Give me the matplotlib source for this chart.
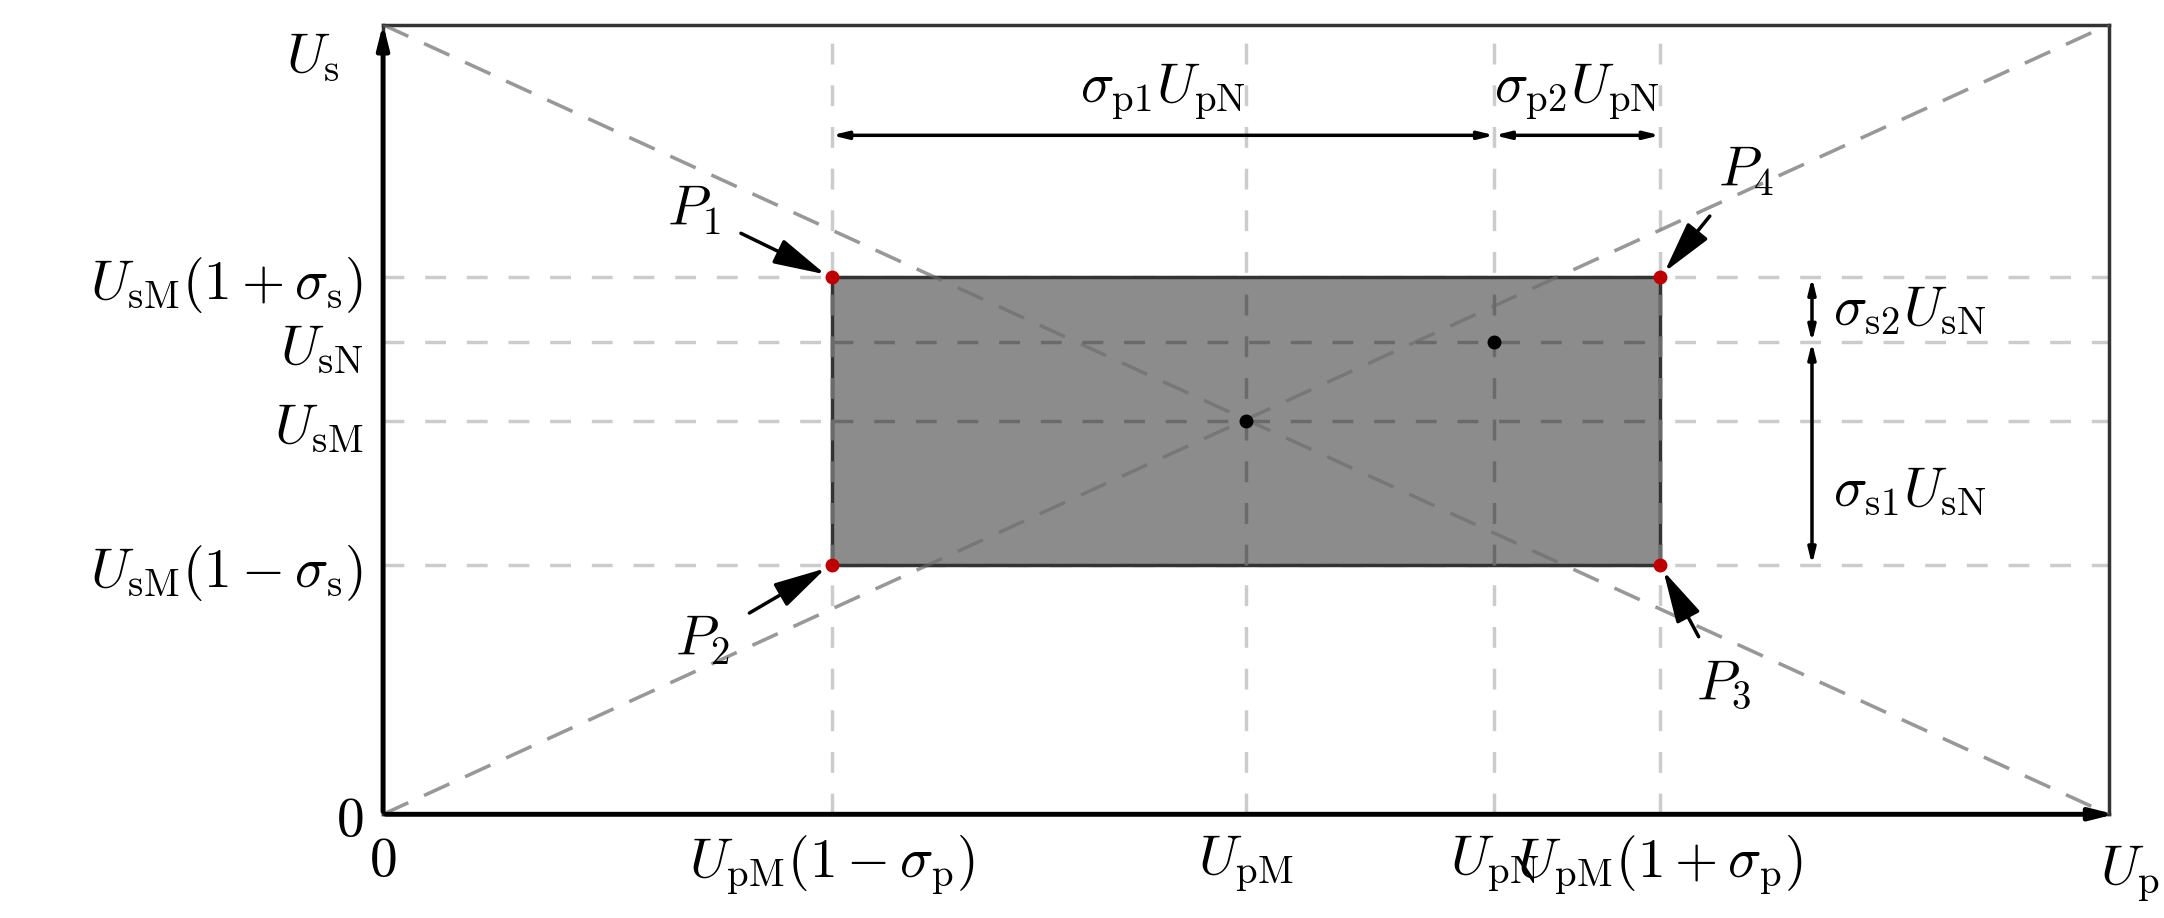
import matplotlib.pyplot as plt
from matplotlib.patches import Rectangle

plt.rcParams['mathtext.fontset'] = 'cm'
plt.rcParams['font.family'] = ['DejaVu Serif']

# positions of the characteristic voltages (normalised axes)
x_ticks = [0.0, 0.26, 0.5, 0.644, 0.74]
x_labels = ['$0$', r'$U_{\rm pM}(1-\sigma_{\rm p})$', r'$U_{\rm pM}$', r'$U_{\rm pN}$', r'$U_{\rm pM}(1+\sigma_{\rm p})$']
y_ticks = [0.0, 0.316, 0.498, 0.598, 0.68]
y_labels = ['$0$', r'$U_{\rm sM}(1-\sigma_{\rm s})$', r'$U_{\rm sM}$', r'$U_{\rm sN}$', r'$U_{\rm sM}(1+\sigma_{\rm s})$']

fs = 40
fig = plt.figure(figsize=(21.64, 9.18), dpi=100)
ax = fig.add_axes([0.177, 0.113, 0.7975, 0.86])
ax.set_xlim(0, 1)
ax.set_ylim(0, 1)
for s in ax.spines.values():
    s.set_linewidth(2.5)
    s.set_color('#333333')

ax.plot([0, 1], [0, 1], ls=(0, (8, 5)), color='#dedede', lw=2.5, zorder=1)
ax.plot([0, 1], [1, 0], ls=(0, (8, 5)), color='#dedede', lw=2.5, zorder=1)

x1, xm, xn, x2 = x_ticks[1:]
y1, ym, yn, y2 = y_ticks[1:]
ax.add_patch(Rectangle((x1, y1), x2 - x1, y2 - y1, facecolor='#8c8c8c', edgecolor='#333333', lw=2.5, zorder=2))
ax.plot([0, 1], [1, 0], ls=(0, (8, 5)), color='#6a6a6a', lw=2.5, zorder=3, alpha=0.6)
ax.plot([0, 1], [0, 1], ls=(0, (8, 5)), color='#6a6a6a', lw=2.5, zorder=3, alpha=0.6)

for x in [x1, xm, xn, x2]:
    ax.axvline(x, ls=(0, (6, 6)), color='#cccccc', lw=2.5, zorder=1.5)
for y in [y1, ym, yn, y2]:
    ax.axhline(y, ls=(0, (6, 6)), color='#cccccc', lw=2.5, zorder=1.5)
for x in [x1, xm, xn, x2]:
    ax.plot([x, x], [y1, y2], ls=(0, (6, 6)), color='#6a6a6a', lw=2.5, zorder=2.5)
for y in [ym, yn]:
    ax.plot([x1, x2], [y, y], ls=(0, (6, 6)), color='#6a6a6a', lw=2.5, zorder=2.5)

ax.plot([x1, x1, x2, x2], [y2, y1, y1, y2], 'o', color='#c00000', ms=9, zorder=5)
ax.plot([xm, xn], [ym, yn], 'o', color='black', ms=9, zorder=5)

ax.set_xticks(x_ticks)
ax.set_xticklabels(x_labels, fontsize=fs)
ax.set_yticks(y_ticks)
ax.set_yticklabels(y_labels, fontsize=fs)
ax.tick_params(length=0, pad=14)

# axis arrows
ax.annotate('', xy=(1.005, 0), xytext=(0, 0), arrowprops=dict(arrowstyle='-|>,head_length=1.4,head_width=0.35', color='black', lw=3.5), annotation_clip=False)
ax.annotate('', xy=(0, 1.005), xytext=(0, 0), arrowprops=dict(arrowstyle='-|>,head_length=1.4,head_width=0.35', color='black', lw=3.5), annotation_clip=False)
ax.text(-0.025, 0.96, r'$U_{\rm s}$', fontsize=fs, ha='right', va='center')
ax.text(0.995, -0.075, r'$U_{\rm p}$', fontsize=fs, ha='left', va='center')

# dimension arrows
dim = dict(arrowstyle='<|-|>,head_length=0.9,head_width=0.22', color='black', lw=2.5, shrinkA=0, shrinkB=0)
ax.annotate('', xy=(x1, 0.86), xytext=(xn, 0.86), arrowprops=dim)
ax.annotate('', xy=(xn, 0.86), xytext=(x2, 0.86), arrowprops=dim)
ax.text((x1 + xn) / 2, 0.915, r'$\sigma_{\rm p1}U_{\rm pN}$', fontsize=fs, ha='center', va='center')
ax.text((xn + x2) / 2, 0.915, r'$\sigma_{\rm p2}U_{\rm pN}$', fontsize=fs, ha='center', va='center')
ax.annotate('', xy=(0.828, y2), xytext=(0.828, yn), arrowprops=dim)
ax.annotate('', xy=(0.828, yn), xytext=(0.828, y1), arrowprops=dim)
ax.text(0.84, 0.64, r'$\sigma_{\rm s2}U_{\rm sN}$', fontsize=fs, ha='left', va='center')
ax.text(0.84, 0.41, r'$\sigma_{\rm s1}U_{\rm sN}$', fontsize=fs, ha='left', va='center')

# corner labels
ptr = dict(arrowstyle='-|>,head_length=0.8,head_width=0.2', color='black', lw=2.5, shrinkA=14, shrinkB=5)
ax.annotate('$P_1$', xy=(x1, y2), xytext=(0.18, 0.765), fontsize=fs, ha='center', va='center', arrowprops=ptr)
ax.annotate('$P_2$', xy=(x1, y1), xytext=(0.185, 0.22), fontsize=fs, ha='center', va='center', arrowprops=ptr)
ax.annotate('$P_3$', xy=(x2, y1), xytext=(0.777, 0.165), fontsize=fs, ha='center', va='center', arrowprops=ptr)
ax.annotate('$P_4$', xy=(x2, y2), xytext=(0.79, 0.815), fontsize=fs, ha='center', va='center', arrowprops=ptr)

fig.savefig('out.png', dpi=100)
